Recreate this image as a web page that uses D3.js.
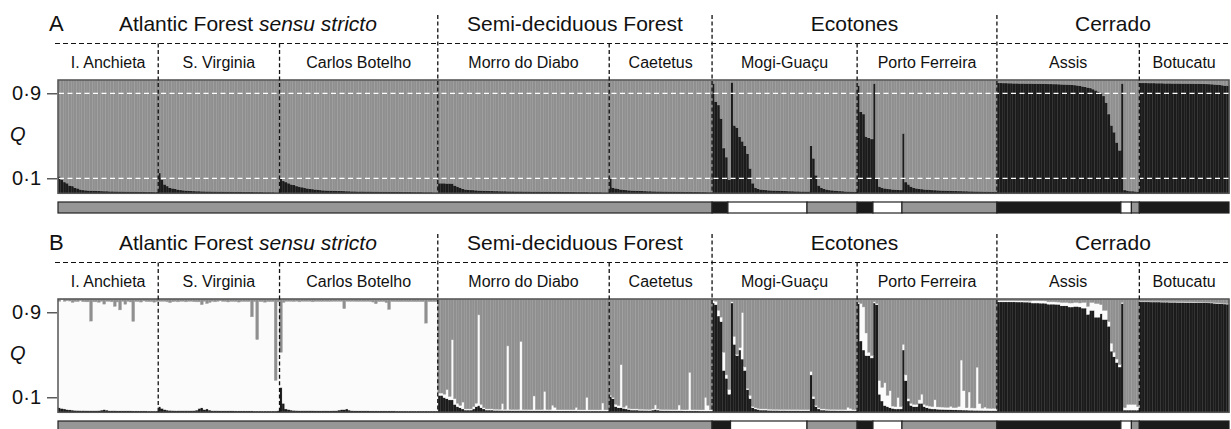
<!DOCTYPE html>
<html>
<head>
<meta charset="utf-8">
<script src="https://cdn.jsdelivr.net/npm/d3@7"></script>
<style>
  body { margin: 0; background: #fff; }
  svg { display: block; font-family: "Liberation Sans", Arial, sans-serif; }
</style>
</head>
<body>
<svg id="chart"></svg>
<script>
// ---- populations / regions ----
const popNames = ["I. Anchieta", "S. Virginia", "Carlos Botelho", "Morro do Diabo", "Caetetus",
  "Mogi-Guaçu", "Porto Ferreira", "Assis", "Botucatu"];
const popRegion = [0, 0, 0, 1, 1, 2, 2, 3, 3];
const regionNames = [["Atlantic Forest ", "sensu stricto"], ["Semi-deciduous Forest", ""],
  ["Ecotones", ""], ["Cerrado", ""]];
const tickValues = [0.1, 0.9];
const tickLabels = ["0·1", "0·9"];

// ---- panel A (K = 2): Q of the dark cluster, one value per individual ----
const aAnchieta = [0.15,0.12,0.10,0.09,0.07,0.065,0.05,0.045,0.035,0.03,
  0.028,0.026,0.025,0.024,0.023,0.022,0.021,0.02,0.02,0.019,
  0.019,0.018,0.018,0.017,0.017,0.016,0.016,0.015,0.015,0.015,
  0.014,0.014,0.014,0.013,0.013,0.013,0.012,0.012];
const aVirginia = [0.18,0.12,0.08,0.065,0.05,0.045,0.04,0.035,0.03,0.028,
  0.026,0.024,0.022,0.021,0.02,0.02,0.019,0.019,0.018,0.018,
  0.017,0.017,0.016,0.016,0.016,0.015,0.015,0.015,0.014,0.014,
  0.014,0.014,0.013,0.013,0.013,0.013,0.012,0.012,0.012,0.012,
  0.011,0.011,0.011,0.011,0.01,0.01];
const aBotelho = [0.13,0.11,0.1,0.09,0.08,0.075,0.065,0.06,0.055,0.05,
  0.045,0.04,0.038,0.035,0.033,0.03,0.028,0.027,0.026,0.025,
  0.024,0.023,0.022,0.022,0.021,0.02,0.02,0.019,0.019,0.018,
  0.018,0.018,0.017,0.017,0.017,0.016,0.016,0.016,0.015,0.015,
  0.015,0.015,0.014,0.014,0.014,0.014,0.013,0.013,0.013,0.013,
  0.012,0.012,0.012,0.012,0.011,0.011,0.011,0.011,0.01,0.01];
const aDiabo = [0.09,0.09,0.09,0.088,0.088,0.087,0.07,0.06,0.05,0.04,
  0.035,0.032,0.03,0.03,0.028,0.026,0.025,0.024,0.023,0.022,
  0.022,0.021,0.021,0.02,0.02,0.02,0.019,0.019,0.019,0.018,
  0.018,0.018,0.017,0.017,0.017,0.016,0.016,0.016,0.016,0.015,
  0.015,0.015,0.015,0.014,0.014,0.014,0.014,0.013,0.013,0.013,
  0.013,0.013,0.012,0.012,0.012,0.012,0.012,0.011,0.011,0.011,
  0.011,0.011,0.01,0.01,0.01];
const aCaetetus = [0.13,0.05,0.045,0.04,0.035,0.032,0.03,0.028,0.026,0.025,
  0.024,0.023,0.022,0.021,0.02,0.02,0.019,0.019,0.018,0.018,
  0.017,0.017,0.016,0.016,0.016,0.015,0.015,0.015,0.014,0.014,
  0.014,0.013,0.013,0.013,0.012,0.012,0.012,0.011,0.011];
const aMogi = [0.97,0.81,0.78,0.66,0.40,0.32,0.12,0.98,0.60,0.58,
  0.50,0.46,0.42,0.35,0.22,0.09,0.05,0.04,0.035,0.032,
  0.03,0.028,0.027,0.026,0.025,0.024,0.023,0.022,0.021,0.02,
  0.02,0.019,0.019,0.018,0.018,0.017,0.017,0.42,0.31,0.16,
  0.07,0.05,0.04,0.035,0.03,0.028,0.025,0.023,0.021,0.02,
  0.018,0.017,0.016,0.015,0.014];
const aPorto = [0.95,0.72,0.70,0.50,0.49,0.48,0.97,0.14,0.06,0.05,
  0.045,0.04,0.038,0.035,0.033,0.032,0.03,0.53,0.10,0.08,
  0.06,0.05,0.045,0.04,0.038,0.036,0.034,0.032,0.03,0.029,
  0.028,0.027,0.026,0.025,0.024,0.023,0.022,0.022,0.021,0.021,
  0.02,0.02,0.019,0.019,0.018,0.018,0.017,0.017,0.016,0.016,
  0.015,0.015,0.015];
const aAssis = [0.975,0.975,0.974,0.974,0.973,0.973,0.972,0.972,0.971,0.971,
  0.97,0.97,0.97,0.969,0.969,0.968,0.968,0.967,0.967,0.966,
  0.966,0.965,0.965,0.964,0.963,0.962,0.961,0.96,0.958,0.956,
  0.954,0.95,0.945,0.94,0.935,0.93,0.92,0.91,0.9,0.88,
  0.86,0.8,0.7,0.6,0.54,0.45,0.38,0.97,0.03,0.025,
  0.02,0.02,0.018,0.015];
const aBotucatu = [0.975,0.975,0.975,0.974,0.974,0.974,0.973,0.973,0.973,0.972,
  0.972,0.972,0.971,0.971,0.971,0.97,0.97,0.97,0.969,0.969,
  0.969,0.968,0.968,0.967,0.967,0.966,0.965,0.964,0.962,0.96,
  0.958,0.955,0.952,0.95];

// ---- panel B (K = 3): Q of the dark and of the white cluster ----
const bAnchietaDark = [0.04,0.035,0.03,0.025,0.022,0.02,0.018,0.017,0.016,0.016,
  0.015,0.015,0.015,0.015,0.015,0.016,0.02,0.025,0.02,0.015,
  0.015,0.015,0.014,0.014,0.014,0.014,0.014,0.014,0.013,0.013,
  0.013,0.013,0.013,0.013,0.012,0.012,0.012,0.012];
const bAnchietaWhite = [0.94,0.96,0.95,0.96,0.96,0.95,0.96,0.96,0.97,0.96,
  0.96,0.96,0.79,0.96,0.96,0.955,0.96,0.93,0.96,0.965,
  0.96,0.92,0.96,0.89,0.965,0.94,0.965,0.96,0.79,0.965,
  0.965,0.96,0.97,0.965,0.965,0.965,0.96,0.965];
const bVirginiaDark = [0.05,0.035,0.025,0.02,0.018,0.016,0.015,0.015,0.015,0.015,
  0.015,0.015,0.015,0.016,0.02,0.035,0.04,0.025,0.03,0.02,
  0.015,0.015,0.015,0.014,0.014,0.014,0.014,0.014,0.014,0.013,
  0.013,0.013,0.013,0.013,0.013,0.013,0.012,0.012,0.012,0.012,
  0.012,0.012,0.012,0.012,0.012,0.015];
const bVirginiaWhite = [0.93,0.945,0.955,0.955,0.95,0.96,0.965,0.96,0.965,0.965,
  0.96,0.965,0.965,0.96,0.955,0.94,0.91,0.955,0.93,0.95,
  0.965,0.96,0.965,0.97,0.965,0.965,0.96,0.965,0.965,0.965,
  0.96,0.965,0.965,0.965,0.965,0.83,0.965,0.63,0.965,0.965,
  0.96,0.965,0.965,0.965,0.27,0.96];
const bBotelhoDark = [0.22,0.08,0.03,0.025,0.02,0.018,0.016,0.015,0.015,0.015,
  0.015,0.015,0.015,0.014,0.014,0.014,0.014,0.014,0.014,0.014,
  0.015,0.015,0.02,0.025,0.025,0.03,0.02,0.015,0.014,0.014,
  0.014,0.014,0.014,0.014,0.013,0.013,0.013,0.013,0.013,0.013,
  0.013,0.013,0.013,0.013,0.012,0.012,0.012,0.012,0.012,0.012,
  0.012,0.012,0.012,0.012,0.012,0.012,0.012,0.012,0.012,0.012];
const bBotelhoWhite = [0.31,0.89,0.95,0.955,0.96,0.96,0.965,0.96,0.965,0.965,
  0.965,0.965,0.96,0.965,0.965,0.965,0.965,0.965,0.965,0.965,
  0.965,0.965,0.96,0.955,0.89,0.95,0.96,0.965,0.965,0.965,
  0.965,0.965,0.965,0.965,0.965,0.96,0.945,0.965,0.965,0.965,
  0.955,0.895,0.965,0.965,0.965,0.965,0.965,0.965,0.965,0.965,
  0.965,0.965,0.965,0.965,0.965,0.775,0.965,0.965,0.965,0.965];
const bDiaboDark = [0.15,0.15,0.13,0.12,0.11,0.11,0.07,0.05,0.04,0.03,
  0.02,0.02,0.02,0.03,0.05,0.06,0.04,0.03,0.02,0.02,
  0.02,0.018,0.018,0.017,0.017,0.016,0.016,0.016,0.015,0.015,
  0.015,0.015,0.015,0.015,0.014,0.014,0.014,0.014,0.014,0.014,
  0.014,0.014,0.014,0.013,0.013,0.013,0.013,0.013,0.013,0.013,
  0.013,0.013,0.013,0.012,0.012,0.012,0.012,0.012,0.012,0.012,
  0.012,0.012,0.012,0.012,0.012];
const bDiaboWhite = [0.02,0.02,0.03,0.08,0.03,0.53,0.05,0.03,0.02,0.06,
  0.01,0.01,0.01,0.02,0.03,0.80,0.03,0.01,0.01,0.01,
  0.01,0.01,0.01,0.01,0.06,0.01,0.57,0.01,0.01,0.01,
  0.01,0.61,0.01,0.01,0.01,0.01,0.13,0.01,0.01,0.01,
  0.17,0.01,0.01,0.05,0.03,0.01,0.01,0.01,0.01,0.01,
  0.01,0.01,0.03,0.01,0.01,0.01,0.12,0.01,0.01,0.01,
  0.01,0.01,0.07,0.01,0.01];
const bCaetetusDark = [0.14,0.12,0.05,0.04,0.04,0.035,0.03,0.025,0.02,0.02,
  0.02,0.018,0.018,0.017,0.017,0.016,0.02,0.025,0.02,0.016,
  0.015,0.015,0.015,0.014,0.014,0.014,0.014,0.014,0.013,0.013,
  0.013,0.013,0.013,0.013,0.012,0.012,0.012,0.012,0.012];
const bCaetetusWhite = [0.01,0.01,0.02,0.02,0.38,0.01,0.03,0.01,0.01,0.01,
  0.01,0.01,0.01,0.01,0.01,0.01,0.01,0.04,0.01,0.01,
  0.01,0.01,0.01,0.01,0.01,0.01,0.05,0.01,0.01,0.01,
  0.34,0.01,0.01,0.01,0.01,0.01,0.12,0.05,0.01];
const bMogiDark = [0.965,0.95,0.85,0.80,0.37,0.30,0.16,0.965,0.60,0.50,
  0.55,0.47,0.37,0.20,0.12,0.04,0.03,0.025,0.02,0.02,
  0.02,0.018,0.018,0.017,0.017,0.016,0.016,0.016,0.015,0.015,
  0.015,0.015,0.015,0.014,0.014,0.014,0.014,0.33,0.12,0.05,
  0.03,0.02,0.02,0.018,0.017,0.016,0.016,0.015,0.015,0.015,
  0.014,0.014,0.014,0.014,0.014];
const bMogiWhite = [0.02,0.03,0.05,0.04,0.16,0.03,0.04,0.01,0.07,0.01,
  0.02,0.41,0.03,0.01,0.03,0.01,0.01,0.01,0.01,0.01,
  0.01,0.01,0.01,0.01,0.01,0.01,0.01,0.01,0.01,0.01,
  0.01,0.01,0.01,0.01,0.01,0.01,0.01,0.03,0.02,0.01,
  0.01,0.01,0.01,0.01,0.01,0.01,0.01,0.01,0.01,0.01,
  0.01,0.03,0.02,0.01,0.01];
const bPortoDark = [0.96,0.63,0.55,0.50,0.50,0.48,0.965,0.95,0.16,0.10,
  0.06,0.05,0.04,0.035,0.03,0.03,0.03,0.55,0.28,0.10,
  0.06,0.05,0.05,0.08,0.08,0.05,0.04,0.035,0.03,0.03,
  0.028,0.027,0.026,0.025,0.024,0.023,0.022,0.022,0.021,0.021,
  0.02,0.02,0.019,0.019,0.018,0.018,0.017,0.017,0.016,0.016,
  0.015,0.015,0.015];
const bPortoWhite = [0.01,0.33,0.38,0.20,0.03,0.02,0.01,0.01,0.12,0.12,
  0.20,0.10,0.15,0.02,0.02,0.10,0.02,0.05,0.05,0.02,
  0.02,0.02,0.02,0.03,0.08,0.02,0.02,0.02,0.02,0.08,
  0.02,0.02,0.02,0.02,0.02,0.03,0.02,0.02,0.03,0.44,
  0.17,0.02,0.16,0.02,0.02,0.38,0.06,0.02,0.03,0.02,
  0.02,0.02,0.02];
const bAssisDark = [0.975,0.975,0.975,0.975,0.975,0.975,0.975,0.974,0.974,0.974,
  0.973,0.973,0.972,0.965,0.965,0.965,0.964,0.964,0.963,0.955,
  0.955,0.955,0.954,0.953,0.94,0.94,0.94,0.93,0.93,0.935,
  0.935,0.93,0.92,0.92,0.865,0.90,0.90,0.84,0.84,0.87,
  0.82,0.82,0.76,0.54,0.49,0.44,0.40,0.96,0.02,0.02,
  0.02,0.02,0.02,0.02];
const bAssisWhite = [0.01,0.01,0.01,0.01,0.01,0.01,0.01,0.01,0.01,0.01,
  0.01,0.01,0.01,0.02,0.02,0.02,0.02,0.02,0.02,0.02,
  0.02,0.02,0.02,0.02,0.03,0.03,0.03,0.035,0.035,0.035,
  0.035,0.035,0.05,0.05,0.07,0.07,0.07,0.12,0.12,0.08,
  0.08,0.08,0.04,0.07,0.04,0.03,0.02,0.01,0.02,0.05,
  0.05,0.05,0.05,0.03];
const bBotucatuDark = [0.975,0.975,0.975,0.975,0.974,0.974,0.974,0.974,0.973,0.973,
  0.973,0.972,0.972,0.972,0.971,0.971,0.971,0.97,0.97,0.97,
  0.969,0.969,0.968,0.968,0.967,0.967,0.966,0.965,0.963,0.961,
  0.96,0.958,0.956,0.955];
const bBotucatuWhite = [0.005,0.005,0.005,0.005,0.005,0.005,0.005,0.005,0.005,0.005,
  0.005,0.005,0.005,0.005,0.005,0.005,0.005,0.005,0.005,0.005,
  0.005,0.005,0.005,0.005,0.005,0.005,0.005,0.005,0.005,0.005,
  0.005,0.005,0.005,0.005];

// ---- assignment strips under each panel: [number of individuals, class] ----
const stripA = [[248,"gray"],[6,"black"],[30,"white"],[19,"gray"],[6,"black"],[11,"white"],
  [36,"gray"],[47,"black"],[4,"white"],[3,"gray"],[34,"black"]];
const stripB = [[248,"gray"],[7,"black"],[29,"white"],[19,"gray"],[6,"black"],[11,"white"],
  [36,"gray"],[47,"black"],[4,"white"],[3,"gray"],[34,"black"]];

const qA = [aAnchieta, aVirginia, aBotelho, aDiabo, aCaetetus, aMogi, aPorto, aAssis, aBotucatu];
const qBdark = [bAnchietaDark, bVirginiaDark, bBotelhoDark, bDiaboDark, bCaetetusDark,
  bMogiDark, bPortoDark, bAssisDark, bBotucatuDark];
const qBwhite = [bAnchietaWhite, bVirginiaWhite, bBotelhoWhite, bDiaboWhite, bCaetetusWhite,
  bMogiWhite, bPortoWhite, bAssisWhite, bBotucatuWhite];

// ---- layout ----
const svgWidth = 1231;
const svgHeight = 429;
const plotLeft = 58, plotRight = 1229;
const plotTop = 80, plotBottom = 193.3;
const panelOffset = 219;

const fill = { black: "#1b1b1b", gray: "#8f8f8f", white: "#fbfbfb" };
const edge = { black: "#3a3a3a", gray: "#a3a3a3", white: "#fbfbfb" };
const stripFill = { black: "#1b1b1b", gray: "#969696", white: "#ffffff" };

const svg = d3.select("#chart").attr("width", svgWidth).attr("height", svgHeight);

const rowsA = [];
qA.forEach((arr, p) => arr.forEach((v) => rowsA.push({ pop: p, black: v, gray: 1 - v })));
const rowsB = [];
qBdark.forEach((arr, p) => arr.forEach((v, i) => {
  const w = qBwhite[p][i];
  rowsB.push({ pop: p, black: v, white: w, gray: Math.max(0, 1 - v - w) });
}));

const popCounts = qA.map((a) => a.length);
const cum = [0];
popCounts.forEach((c) => cum.push(cum[cum.length - 1] + c));
const total = cum[cum.length - 1];

const x = d3.scaleBand().domain(d3.range(total)).range([plotLeft, plotRight]).paddingInner(0);
const xEdge = (k) => (k < total ? x(k) : plotRight);
const yBar = d3.scaleLinear().domain([0, 1]).range([plotBottom, plotTop]);
const yAxis = d3.scaleLinear().domain([0.1, 0.9]).range([178.3, 93.3]);

const renderPanel = (offset, letter, rows, keys, strip, guides) => {
  const g = svg.append("g").attr("transform", `translate(0, ${offset})`);

  const stacked = d3.stack().keys(keys)(rows);
  g.append("g")
    .selectAll("g")
    .data(stacked)
    .join("g")
    .attr("fill", (s) => fill[s.key])
    .attr("stroke", (s) => edge[s.key])
    .attr("stroke-width", 0.45)
    .selectAll("rect")
    .data((s) => s)
    .join("rect")
    .attr("x", (d, i) => x(i))
    .attr("width", x.bandwidth() + 0.15)
    .attr("y", (d) => yBar(d[1]))
    .attr("height", (d) => Math.max(0, yBar(d[0]) - yBar(d[1])));

  // plot frame
  g.append("rect")
    .attr("x", plotLeft).attr("y", plotTop)
    .attr("width", plotRight - plotLeft).attr("height", plotBottom - plotTop)
    .attr("fill", "none").attr("stroke", "#555").attr("stroke-width", 1.5);

  if (guides) {
    g.selectAll(".guide")
      .data(tickValues)
      .join("line")
      .attr("class", "guide")
      .attr("x1", plotLeft + 1).attr("x2", plotRight)
      .attr("y1", (d) => yAxis(d)).attr("y2", (d) => yAxis(d))
      .attr("stroke", "#ffffff").attr("stroke-width", 1.3)
      .attr("stroke-dasharray", "5,3.5");
  }

  // boundaries between populations and regions
  const bounds = d3.range(1, popNames.length).map((p) => ({
    k: cum[p], region: popRegion[p] !== popRegion[p - 1]
  }));
  g.selectAll(".bound")
    .data(bounds)
    .join("line")
    .attr("class", "bound")
    .attr("x1", (d) => xEdge(d.k)).attr("x2", (d) => xEdge(d.k))
    .attr("y1", (d) => (d.region ? 15 : 43.5)).attr("y2", plotBottom)
    .attr("stroke", "#111").attr("stroke-width", 1.3)
    .attr("stroke-dasharray", "4,2.6");

  g.append("line")
    .attr("x1", 55).attr("x2", svgWidth)
    .attr("y1", 43.5).attr("y2", 43.5)
    .attr("stroke", "#111").attr("stroke-width", 1.2)
    .attr("stroke-dasharray", "5,3");

  // assignment strip
  let start = 0;
  const segs = strip.map(([n, cls]) => {
    const s = { from: start, to: start + n, cls };
    start += n;
    return s;
  });
  g.append("g")
    .selectAll("rect")
    .data(segs)
    .join("rect")
    .attr("x", (d) => xEdge(d.from))
    .attr("width", (d) => xEdge(d.to) - xEdge(d.from))
    .attr("y", 202).attr("height", 11)
    .attr("fill", (d) => stripFill[d.cls])
    .attr("stroke", "#222").attr("stroke-width", 1.2);

  // texts
  g.append("text")
    .attr("x", 49).attr("y", 31)
    .attr("font-size", 22).attr("fill", "#111")
    .text(letter);

  regionNames.forEach((name, r) => {
    const pops = d3.range(popNames.length).filter((p) => popRegion[p] === r);
    const x0 = xEdge(cum[pops[0]]);
    const x1 = xEdge(cum[pops[pops.length - 1] + 1]);
    const t = g.append("text")
      .attr("x", (x0 + x1) / 2).attr("y", 31)
      .attr("text-anchor", "middle")
      .attr("font-size", 21).attr("fill", "#111");
    t.append("tspan").text(name[0]);
    if (name[1]) t.append("tspan").attr("font-style", "italic").text(name[1]);
  });

  g.selectAll(".pop")
    .data(popNames)
    .join("text")
    .attr("class", "pop")
    .attr("x", (d, p) => (xEdge(cum[p]) + xEdge(cum[p + 1])) / 2)
    .attr("y", 68)
    .attr("text-anchor", "middle")
    .attr("font-size", 16).attr("fill", "#111")
    .text((d) => d);

  const axisG = g.append("g")
    .attr("transform", `translate(${plotLeft - 1}, 0)`)
    .call(
      d3.axisLeft(yAxis)
        .tickValues(tickValues)
        .tickSize(10)
        .tickPadding(6)
        .tickFormat((d, i) => tickLabels[i])
    );
  axisG.select(".domain").remove();
  axisG.selectAll(".tick line").attr("stroke", "#333").attr("stroke-width", 1.2);
  axisG.selectAll(".tick text")
    .attr("font-size", 20).attr("fill", "#111")
    .attr("font-family", "Liberation Sans, Arial, sans-serif");

  g.append("text")
    .attr("x", 10).attr("y", 141)
    .attr("font-size", 20).attr("font-style", "italic").attr("fill", "#111")
    .text("Q");
};

renderPanel(0, "A", rowsA, ["black", "gray"], stripA, true);
renderPanel(panelOffset, "B", rowsB, ["black", "white", "gray"], stripB, false);
</script>
</body>
</html>
